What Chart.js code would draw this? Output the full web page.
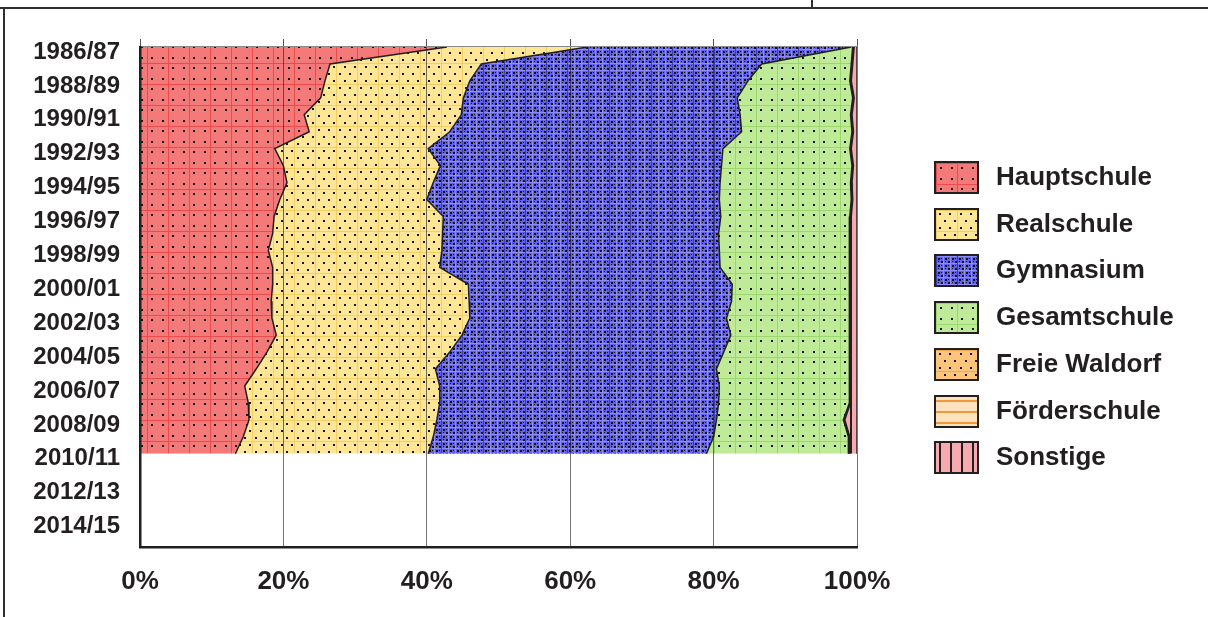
<!DOCTYPE html>
<html>
<head>
<meta charset="utf-8">
<script src="https://cdn.jsdelivr.net/npm/chart.js@4.4.1/dist/chart.umd.min.js"></script>
<style>
html,body{margin:0;padding:0;background:#fff;}
#wrap{position:relative;width:1208px;height:617px;overflow:hidden;background:#fff;}
#c{position:absolute;left:0;top:0;}
.fr{position:absolute;background:#2e2e2e;}
.sw{position:absolute;left:934px;width:41px;height:29px;border:2px solid #231f20;display:block;}
.lt{position:absolute;left:996px;height:33px;line-height:33px;font:bold 26px 'Liberation Sans',Arial,sans-serif;color:#231f20;white-space:nowrap;}
</style>
</head>
<body>
<div id="wrap">
  <canvas id="c" width="1208" height="617"></canvas>
  <div class="fr" style="left:0;top:7px;width:1208px;height:2px;"></div>
  <div class="fr" style="left:811px;top:0;width:2px;height:9px;"></div>
  <div class="fr" style="left:3px;top:8px;width:2px;height:609px;"></div>
  <div id="legend"></div>
</div>
<script>
// ---- data (percent shares per school year) ----
const years = ['1986/87','1987/88','1988/89','1989/90','1990/91','1991/92','1992/93','1993/94','1994/95','1995/96',
  '1996/97','1997/98','1998/99','1999/00','2000/01','2001/02','2002/03','2003/04','2004/05','2005/06',
  '2006/07','2007/08','2008/09','2009/10','2010/11','2011/12','2012/13','2013/14','2014/15','2015/16'];
const seriesNames = ['Hauptschule','Realschule','Gymnasium','Gesamtschule','Freie Waldorf','Förderschule','Sonstige'];
const hauptschule  = [42.8,26.5,25.8,25.2,22.9,23.6,18.8,20.0,20.5,19.5,18.7,18.5,17.9,18.5,18.5,18.3,18.4,19.0,17.7,16.2,14.6,15.1,15.2,14.4,13.3];
const realschule   = [19.6,21.1,20.2,19.9,21.9,19.6,21.4,21.9,20.4,20.5,23.6,23.7,24.2,23.3,27.3,27.6,27.6,25.9,25.5,25.0,27.2,26.7,26.2,26.5,26.9];
const gymnasium    = [36.8,39.1,38.8,38.2,38.9,40.7,41.1,39.2,40.0,40.8,38.7,38.5,38.7,39.1,36.8,36.6,35.8,37.5,38.2,39.2,39.0,38.9,39.0,39.1,38.8];
const gesamtschule = [0.2,12.5,14.2,16.1,15.4,15.4,17.7,18.2,18.2,18.4,18.0,18.3,18.1,18.1,16.3,16.5,17.1,16.5,17.6,18.5,18.1,18.2,17.7,18.8,19.8];
const freieWaldorf = [0.1,0.1,0.1,0.1,0.1,0.1,0.1,0.1,0.1,0.1,0.1,0.1,0.1,0.1,0.1,0.1,0.1,0.1,0.1,0.1,0.1,0.1,0.1,0.1,0.1];
const foerderschule= [0.1,0.1,0.1,0.1,0.1,0.1,0.1,0.1,0.1,0.1,0.1,0.1,0.1,0.1,0.1,0.1,0.1,0.1,0.1,0.1,0.1,0.1,0.1,0.1,0.1];
const sonstige     = [0.4,0.6,0.8,0.4,0.7,0.5,0.8,0.5,0.7,0.6,0.8,0.8,0.9,0.8,0.9,0.8,0.9,0.9,0.8,0.9,0.9,0.9,1.7,1.0,1.0];
const xTicks = [0,20,40,60,80,100];

// ---- pattern fills ----
function tile(w,h,draw){const c=document.createElement('canvas');c.width=w;c.height=h;draw(c.getContext('2d'));return c;}
const pctx = document.createElement('canvas').getContext('2d');
const DOT = '#161414';
const tiles = {
  haupt: tile(21,21,g=>{g.fillStyle='#f47a7a';g.fillRect(0,0,21,21);g.fillStyle='#e84c4c';g.fillRect(0,0,21,1);g.fillRect(0,0,1,21);
    g.fillStyle=DOT;[[4,4],[15,4],[4,15],[15,15]].forEach(p=>g.fillRect(p[0],p[1],2,2));}),
  real: tile(21,42,g=>{g.fillStyle='#fee694';g.fillRect(0,0,21,42);g.fillStyle='#f0cf66';g.fillRect(0,0,21,1);g.fillRect(0,21,21,1);g.fillRect(0,0,1,42);
    g.fillStyle=DOT;for(let r=0;r<6;r++){const y=3+r*7;const o=(r%2)?8:3;g.fillRect(o,y,2,2);g.fillRect(o+10,y,2,2);}}),
  gym: tile(21,21,g=>{g.fillStyle='#6262e8';g.fillRect(0,0,21,21);g.fillStyle='#8c8cff';
    for(let k=0;k<21;k+=7){g.fillRect(k,0,1,21);g.fillRect(0,k,21,1);}
    g.fillStyle='#3c3cb4';g.fillRect(0,0,1,21);
    g.fillStyle=DOT;for(let i=0;i<21;i+=7)for(let j=0;j<21;j+=7){g.fillRect(i+2,j+2,2,2);g.fillRect(i+5,j+5,2,2);g.fillRect(i+5,j+2,1,1);g.fillRect(i+2,j+5,1,1);}}),
  ges: tile(21,21,g=>{g.fillStyle='#bfea98';g.fillRect(0,0,21,21);g.fillStyle='#9bd66e';g.fillRect(0,0,21,1);g.fillRect(0,0,1,21);
    g.fillStyle=DOT;[[4,4],[15,4],[4,15],[15,15]].forEach(p=>g.fillRect(p[0],p[1],2,2));}),
  wald: tile(21,42,g=>{g.fillStyle='#fdc47c';g.fillRect(0,0,21,42);g.fillStyle='#f0a850';g.fillRect(0,0,21,1);g.fillRect(0,21,21,1);
    g.fillStyle=DOT;for(let r=0;r<6;r++){const y=3+r*7;const o=(r%2)?8:3;g.fillRect(o,y,2,2);g.fillRect(o+10,y,2,2);}}),
  foer: tile(11,11,g=>{g.fillStyle='#fde2bd';g.fillRect(0,0,11,11);g.fillStyle='#ee9a3a';g.fillRect(0,3,11,2);}),
  sonst: tile(11,21,g=>{g.fillStyle='#f6a9ae';g.fillRect(0,0,11,21);g.fillStyle='#231f20';g.fillRect(3,0,2,21);})
};
const tileList = [tiles.haupt,tiles.real,tiles.gym,tiles.ges,tiles.wald,tiles.foer,tiles.sonst];
const patterns = tileList.map(t=>pctx.createPattern(t,'repeat'));
const seriesValues = [hauptschule,realschule,gymnasium,gesamtschule,freieWaldorf,foerderschule,sonstige];

// ---- legend (HTML) ----
const lg = document.getElementById('legend');
seriesNames.forEach((name,k)=>{
  const top = 161 + k*46.7;
  const sw = document.createElement('canvas'); sw.width=41; sw.height=29; sw.className='sw'; sw.style.top=top+'px';
  const g = sw.getContext('2d'); g.fillStyle = patterns[k]; g.fillRect(0,0,41,29);
  lg.appendChild(sw);
  const t = document.createElement('div'); t.className='lt'; t.style.top=top+'px'; t.textContent=name; lg.appendChild(t);
});

// ---- chart ----
Chart.defaults.font.family = "'Liberation Sans', Arial, sans-serif";
Chart.defaults.color = '#231f20';
const datasets = seriesNames.map((name,k)=>({
  label: name,
  data: seriesValues[k].map((v,i)=>({x:v,y:i})),
  backgroundColor: patterns[k],
  borderColor: '#231f20',
  borderWidth: 1.5,
  fill: k===0 ? 'origin' : '-1',
  pointRadius: 0,
  pointHoverRadius: 0,
  tension: 0
}));

new Chart(document.getElementById('c'), {
  type: 'line',
  data: { datasets },
  options: {
    indexAxis: 'y',
    responsive: false,
    animation: false,
    events: [],
    layout: { padding: { left: 0, top: 39, right: 351, bottom: 0 } },
    plugins: { legend: { display: false }, tooltip: { enabled: false } },
    scales: {
      x: {
        type: 'linear', position: 'bottom', stacked: true, min: 0, max: 100,
        afterBuildTicks: s => { s.ticks = xTicks.map(v=>({value:v})); },
        afterFit: s => { s.height = 70; },
        ticks: { callback: v => v + '%', font: { size: 26, weight: 'bold' }, padding: 19, color: '#231f20' },
        grid: { color: 'rgba(35,31,32,0.62)', lineWidth: 1, drawTicks: false, z: 1 },
        border: { display: true, color: '#231f20', width: 2.5, z: 1 }
      },
      x2: {
        type: 'linear', position: 'top', min: 0, max: 100,
        afterBuildTicks: s => { s.ticks = xTicks.map(v=>({value:v})); },
        afterFit: s => { s.height = 8; },
        ticks: { display: false },
        grid: { drawOnChartArea: false, drawTicks: true, tickLength: 8, color: '#555', lineWidth: 1 },
        border: { display: true, color: '#8a8a8a', width: 1.5 }
      },
      y: {
        type: 'linear', reverse: true, min: 0, max: 29.5,
        afterBuildTicks: s => { s.ticks = years.map((_,i)=>i).filter(i=>i%2===0 && i<=28).map(i=>({value:i})); },
        afterFit: s => { s.width = 140; },
        ticks: { callback: v => years[v], font: { size: 24, weight: 'bold' }, padding: 20, labelOffset: 5, color: '#231f20' },
        grid: { display: false, drawTicks: false },
        border: { display: true, color: '#231f20', width: 2.5, z: 1 }
      }
    }
  }
});
</script>
</body>
</html>
